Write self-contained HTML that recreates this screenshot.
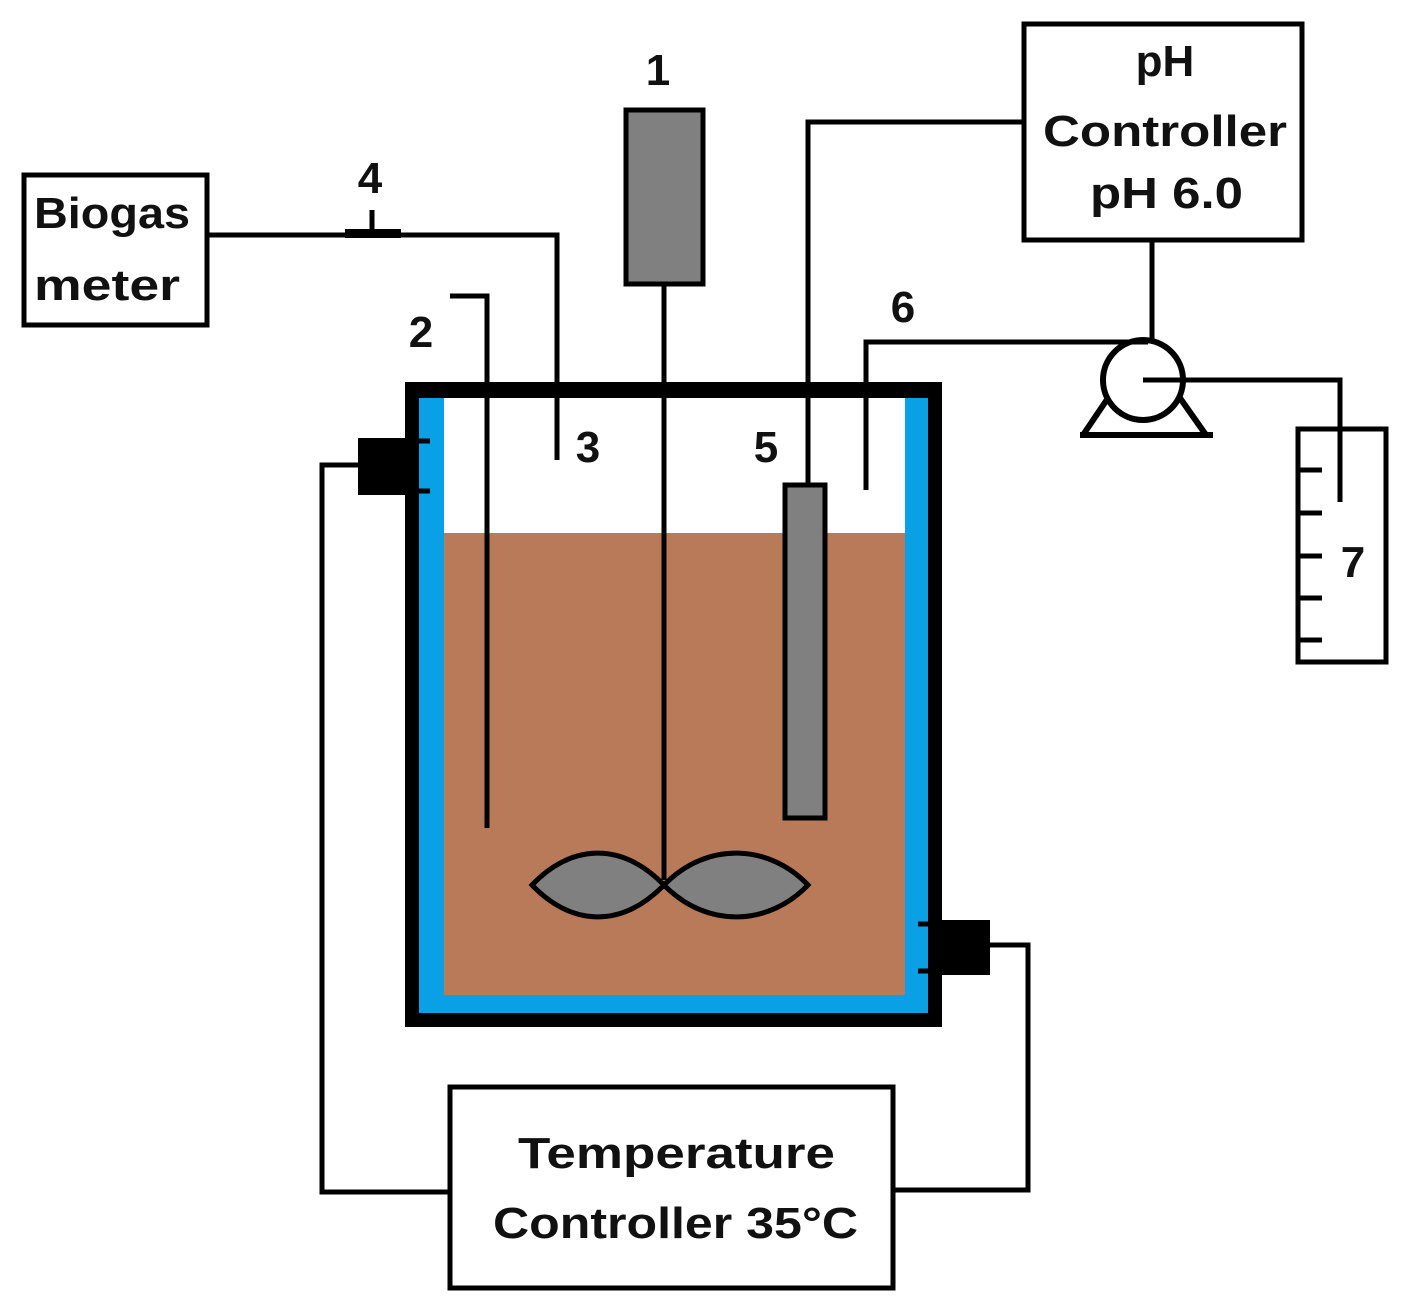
<!DOCTYPE html>
<html><head><style>body{margin:0;background:#fff}svg{display:block}text{font-family:"Liberation Sans",sans-serif;font-weight:bold;fill:#111}</style></head>
<body>
<svg width="1408" height="1316" viewBox="0 0 1408 1316" xmlns="http://www.w3.org/2000/svg">
<rect width="1408" height="1316" fill="#fff"/>
<rect x="405" y="382" width="537" height="645" fill="#000"/>
<rect x="419" y="398" width="509" height="615" fill="#0aa0e6"/>
<rect x="444" y="398" width="461" height="597" fill="#fff"/>
<rect x="444" y="533" width="461" height="462" fill="#b87a58"/>
<g stroke="#000" stroke-width="5" fill="none">
<polyline points="360,465 322,465 322,1192 448,1192"/>
<polyline points="988,945 1028,945 1028,1190 895,1190"/>
<rect x="450" y="1087" width="443" height="201"/>
<rect x="24" y="175" width="183" height="150"/>
<polyline points="208,235 557,235 557,460"/>
<polyline points="450,296 487,296 487,828"/>
<line x1="664" y1="285" x2="664" y2="880"/>
<polyline points="808,485 808,122 1025,122"/>
<rect x="1024" y="24" width="278" height="216"/>
<line x1="1152" y1="240" x2="1152" y2="342"/>
<polyline points="866,490 866,342 1148,342"/>
<polyline points="1143,380 1340,380 1340,502"/>
<rect x="1298" y="429" width="88" height="233"/>
<line x1="1298" y1="470" x2="1322" y2="470"/><line x1="1298" y1="513" x2="1322" y2="513"/><line x1="1298" y1="556" x2="1322" y2="556"/><line x1="1298" y1="598" x2="1322" y2="598"/><line x1="1298" y1="640" x2="1322" y2="640"/>
<line x1="418" y1="441" x2="430" y2="441"/><line x1="418" y1="491" x2="430" y2="491"/>
<line x1="928" y1="924" x2="918" y2="924"/><line x1="928" y1="971" x2="918" y2="971"/>
<path d="M1083,435 L1108,398 M1206,435 L1180,398 M1080,435 L1213,435" stroke-width="6"/>
<circle cx="1143" cy="380" r="40" stroke-width="6"/>
<line x1="372" y1="210" x2="372" y2="232"/>
</g>
<rect x="345" y="229" width="56" height="9" fill="#000"/>
<rect x="358" y="438" width="60" height="57" fill="#000"/>
<rect x="928" y="920" width="62" height="55" fill="#000"/>
<rect x="626" y="110" width="77" height="174" fill="#808080" stroke="#000" stroke-width="5"/>
<rect x="785" y="485" width="40" height="333" fill="#808080" stroke="#000" stroke-width="5"/>
<path d="M664,885 C620,840 570,845 532,885 C570,925 620,930 664,885 C708,840 770,845 808,885 C770,925 708,930 664,885 Z" fill="#808080" stroke="#000" stroke-width="5"/>
<g font-size="44">
<text x="34" y="228" textLength="156" lengthAdjust="spacingAndGlyphs">Biogas</text><text x="34" y="300" textLength="146" lengthAdjust="spacingAndGlyphs">meter</text>
<text x="1165" y="76" text-anchor="middle">pH</text>
<text x="1043" y="146" textLength="244" lengthAdjust="spacingAndGlyphs">Controller</text>
<text x="1090" y="208" textLength="153" lengthAdjust="spacingAndGlyphs">pH 6.0</text>
<text x="518" y="1168" textLength="317" lengthAdjust="spacingAndGlyphs">Temperature</text>
<text x="493" y="1238" textLength="365" lengthAdjust="spacingAndGlyphs">Controller 35°C</text>
<text x="658" y="85" text-anchor="middle">1</text>
<text x="421" y="347" text-anchor="middle">2</text>
<text x="588" y="462" text-anchor="middle">3</text>
<text x="370" y="193" text-anchor="middle">4</text>
<text x="766" y="462" text-anchor="middle">5</text>
<text x="903" y="322" text-anchor="middle">6</text>
<text x="1353" y="577" text-anchor="middle">7</text>
</g>
</svg>
</body></html>
